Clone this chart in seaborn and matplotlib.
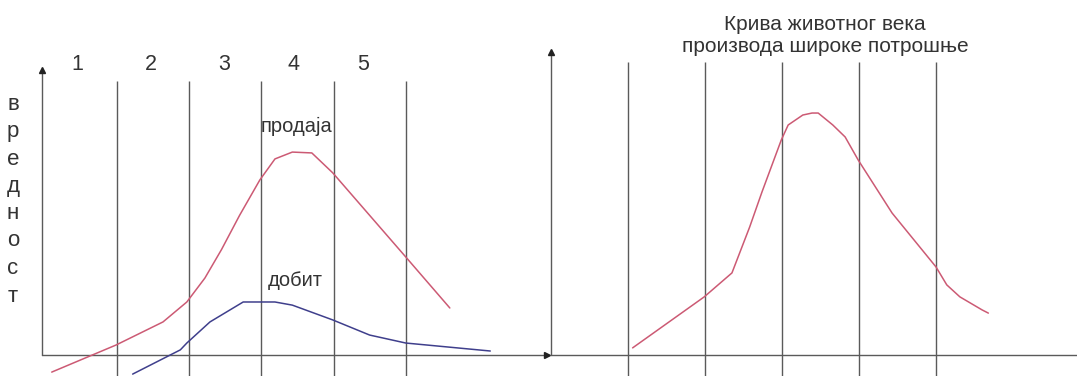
import numpy as np
import pandas as pd
import matplotlib
matplotlib.use("Agg")
import matplotlib.pyplot as plt
import seaborn as sns

# ---------------- data ----------------
# left panel: stage boundaries and curves (x in stage units, y in value units)
stage_lines = [1, 2, 3, 4, 5]
stage_labels = ["1", "2", "3", "4", "5"]
stage_label_x = [0.45, 1.47, 2.48, 3.44, 4.41]

sales_x = [0.10, 0.99, 1.64, 1.97, 2.22, 2.45, 2.70, 2.98, 3.19, 3.43, 3.70, 3.99, 5.00, 5.61]
sales_y = [-0.60, 0.35, 1.16, 1.86, 2.70, 3.70, 4.90, 6.14, 6.88, 7.12, 7.09, 6.39, 3.44, 1.65]

profit_x = [1.22, 1.88, 1.97, 2.29, 2.75, 3.19, 3.43, 3.99, 4.50, 5.00, 6.17]
profit_y = [-0.67, 0.18, 0.42, 1.16, 1.86, 1.86, 1.75, 1.23, 0.70, 0.42, 0.14]

y_axis_letters = list("вредност")

# right panel: consumer product life cycle
life_x = [1.06, 1.99, 2.35, 2.58, 2.74, 2.99, 3.08, 3.27, 3.39, 3.47, 3.66, 3.82,
          3.99, 4.43, 5.00, 5.14, 5.31, 5.60, 5.68]
life_y = [0.25, 2.04, 2.88, 4.49, 5.72, 7.54, 8.07, 8.42, 8.49, 8.49, 8.07, 7.65,
          6.84, 4.98, 3.09, 2.46, 2.04, 1.58, 1.47]

title_right = "Крива животног века\nпроизвода широке потрошње"

# ---------------- style ----------------
sns.set_style("white")
plt.rcParams["font.family"] = ["Liberation Sans", "DejaVu Sans"]

RED = "#cc5a74"
BLUE = "#3f3f8c"
GRAY = "#5a5a5a"
TXT = "#333333"

W, H = 1077, 376
fig = plt.figure(figsize=(W / 100, H / 100), dpi=100)

PX_PER_Y = 28.5
Y0 = 355  # pixel row of value 0


def make_axes(px_left, px_right, x0_px, px_per_x):
    ax = fig.add_axes([px_left / W, 0, (px_right - px_left) / W, 1])
    ax.set_xlim((px_left - x0_px) / px_per_x, (px_right - x0_px) / px_per_x)
    ax.set_ylim((Y0 - H) / PX_PER_Y, Y0 / PX_PER_Y)
    for s in ax.spines.values():
        s.set_visible(False)
    ax.set_xticks([])
    ax.set_yticks([])
    ax.patch.set_alpha(0)
    return ax


# ---------------- left panel ----------------
axL = make_axes(42, 547, 44.5, 72.25)
xl0, xl1 = axL.get_xlim()
y_top_L = (Y0 - 70) / PX_PER_Y
axL.plot([xl0, xl0], [0, y_top_L], color=GRAY, lw=1.0, clip_on=False)
axL.plot([xl0, xl1], [0, 0], color=GRAY, lw=1.0, clip_on=False)
axL.plot([xl0], [y_top_L], marker="^", color="#222222", ms=4, clip_on=False)
axL.plot([xl1], [0], marker=">", color="#222222", ms=4, clip_on=False)
axL.vlines(stage_lines, axL.get_ylim()[0], (Y0 - 81) / PX_PER_Y, color=GRAY, lw=1.0)

sales = pd.DataFrame({"x": sales_x, "y": sales_y})
profit = pd.DataFrame({"x": profit_x, "y": profit_y})
sns.lineplot(data=sales, x="x", y="y", sort=False, color=RED, lw=1.1, ax=axL)
sns.lineplot(data=profit, x="x", y="y", sort=False, color=BLUE, lw=1.1, ax=axL)
axL.set_xlabel("")
axL.set_ylabel("")

for xp, lab in zip(stage_label_x, stage_labels):
    axL.text(xp, (Y0 - 65) / PX_PER_Y, lab, ha="center", va="center", fontsize=15.5, color=TXT)

axL.text(3.49, (Y0 - 126) / PX_PER_Y, "продаја", ha="center", va="center", fontsize=14.5, color=TXT)
axL.text(3.47, (Y0 - 280) / PX_PER_Y, "добит", ha="center", va="center", fontsize=14.5, color=TXT)

letter_rows = [105, 132, 160, 186, 213, 240, 268, 296]
for ch, py in zip(y_axis_letters, letter_rows):
    fig.text(13 / W, 1 - py / H, ch, ha="center", va="center", fontsize=16, color=TXT)

# ---------------- right panel ----------------
axR = make_axes(551, 1077, 551, 77)
xr0, xr1 = axR.get_xlim()
y_top_R = (Y0 - 52) / PX_PER_Y
axR.plot([xr0, xr0], [0, y_top_R], color=GRAY, lw=1.0, clip_on=False)
axR.plot([xr0, xr1], [0, 0], color=GRAY, lw=1.0, clip_on=False)
axR.plot([xr0], [y_top_R], marker="^", color="#222222", ms=4, clip_on=False)
axR.vlines(stage_lines, axR.get_ylim()[0], (Y0 - 62) / PX_PER_Y, color=GRAY, lw=1.0)

life = pd.DataFrame({"x": life_x, "y": life_y})
sns.lineplot(data=life, x="x", y="y", sort=False, color=RED, lw=1.1, ax=axR)
axR.set_xlabel("")
axR.set_ylabel("")

axR.text(3.56, (Y0 - 35) / PX_PER_Y, title_right, ha="center", va="center",
         fontsize=15, color=TXT, linespacing=1.2)

fig.savefig("out.png", dpi=100)
